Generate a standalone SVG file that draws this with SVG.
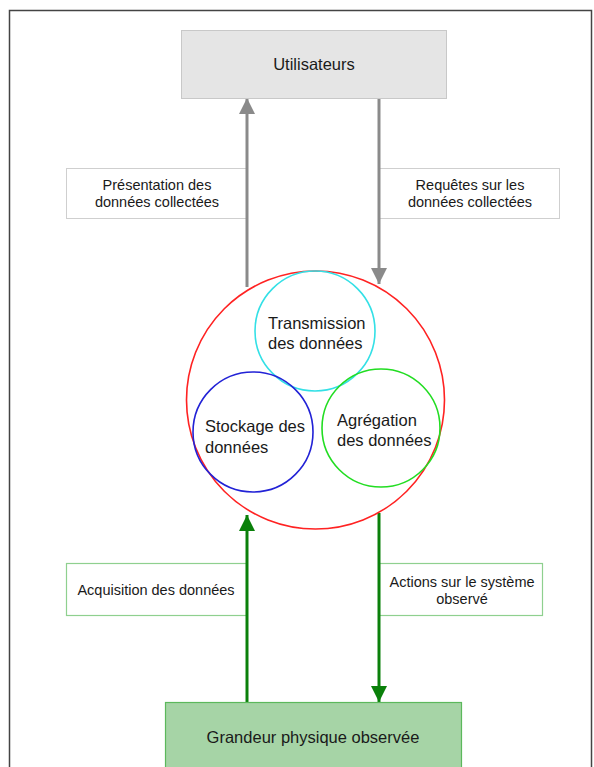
<svg xmlns="http://www.w3.org/2000/svg" width="594" height="767" viewBox="0 0 594 767">
  <style>
    text { font-family: "Liberation Sans", Arial, sans-serif; fill: #1a1a1a; }
    .big { font-size: 16.5px; }
    .lbl { font-size: 14.5px; text-anchor: middle; }
    .mid { text-anchor: middle; }
    .gray-box { fill: #ffffff; stroke: #cfcfcf; stroke-width: 1; }
    .green-box { fill: #ffffff; stroke: #8fd08f; stroke-width: 1.2; }
    .ring { fill: none; stroke-width: 1.6; }
    .gray-line { stroke: #8a8a8a; stroke-width: 3; fill: none; }
    .green-line { stroke: #0a800a; stroke-width: 3; fill: none; }
  </style>
  <defs>
    <marker id="ahGray" markerUnits="userSpaceOnUse" markerWidth="16" markerHeight="18" refX="16" refY="8" orient="auto">
      <path d="M0,0 L16,8 L0,16 Z" fill="#8a8a8a"/>
    </marker>
    <marker id="ahGreen" markerUnits="userSpaceOnUse" markerWidth="16" markerHeight="18" refX="16" refY="8" orient="auto">
      <path d="M0,0 L16,8 L0,16 Z" fill="#0a800a"/>
    </marker>
  </defs>

  <rect x="0" y="0" width="594" height="767" fill="#ffffff"/>
  <!-- page frame -->
  <rect x="9.5" y="10.5" width="582" height="770" fill="none" stroke="#444444" stroke-width="1.5"/>

  <!-- label panels beside the connectors -->
  <g id="label-presentation">
    <rect class="gray-box" x="66.5" y="168.5" width="180" height="50"/>
    <text class="lbl" x="157" y="190">Présentation des</text>
    <text class="lbl" x="157" y="207">données collectées</text>
  </g>
  <g id="label-requetes">
    <rect class="gray-box" x="379.5" y="168.5" width="180" height="50"/>
    <text class="lbl" x="470" y="190">Requêtes sur les</text>
    <text class="lbl" x="470" y="207">données collectées</text>
  </g>
  <g id="label-acquisition">
    <rect class="green-box" x="66.5" y="563.5" width="180" height="52"/>
    <text class="lbl" x="156" y="595">Acquisition des données</text>
  </g>
  <g id="label-actions">
    <rect class="green-box" x="379.5" y="563.5" width="163" height="52"/>
    <text class="lbl" x="462" y="587">Actions sur le système</text>
    <text class="lbl" x="462" y="604">observé</text>
  </g>

  <!-- connectors -->
  <g id="connectors">
    <line class="gray-line" x1="247" y1="287" x2="247" y2="98" marker-end="url(#ahGray)"/>
    <line class="gray-line" x1="379" y1="98" x2="379" y2="284" marker-end="url(#ahGray)"/>
    <line class="green-line" x1="247" y1="702" x2="247" y2="515" marker-end="url(#ahGreen)"/>
    <line class="green-line" x1="379" y1="513" x2="379" y2="702" marker-end="url(#ahGreen)"/>
  </g>

  <g id="utilisateurs">
    <rect x="181.5" y="30.5" width="265" height="68" fill="#e5e5e5" stroke="#c8c8c8" stroke-width="1"/>
    <text class="big mid" x="314" y="70">Utilisateurs</text>
  </g>

  <g id="systeme">
    <circle class="ring" cx="315.5" cy="400" r="129" stroke="#ff2222"/>
  </g>

  <g id="transmission">
    <circle class="ring" cx="315" cy="331" r="60" stroke="#33e0e6"/>
    <text class="big" x="268" y="329">Transmission</text>
    <text class="big" x="268" y="349">des données</text>
  </g>

  <g id="stockage">
    <circle class="ring" cx="253" cy="432" r="60" stroke="#2222d6"/>
    <text class="big" x="205" y="432">Stockage des</text>
    <text class="big" x="205" y="453">données</text>
  </g>

  <g id="agregation">
    <circle class="ring" cx="381" cy="428" r="59" stroke="#22dd22"/>
    <text class="big" x="337" y="426">Agrégation</text>
    <text class="big" x="337" y="446">des données</text>
  </g>

  <g id="grandeur">
    <rect x="165.5" y="702.5" width="296" height="80" fill="#a6d4a6" stroke="#5cb85c" stroke-width="1.2"/>
    <text class="big mid" x="313" y="743">Grandeur physique observée</text>
  </g>
</svg>
